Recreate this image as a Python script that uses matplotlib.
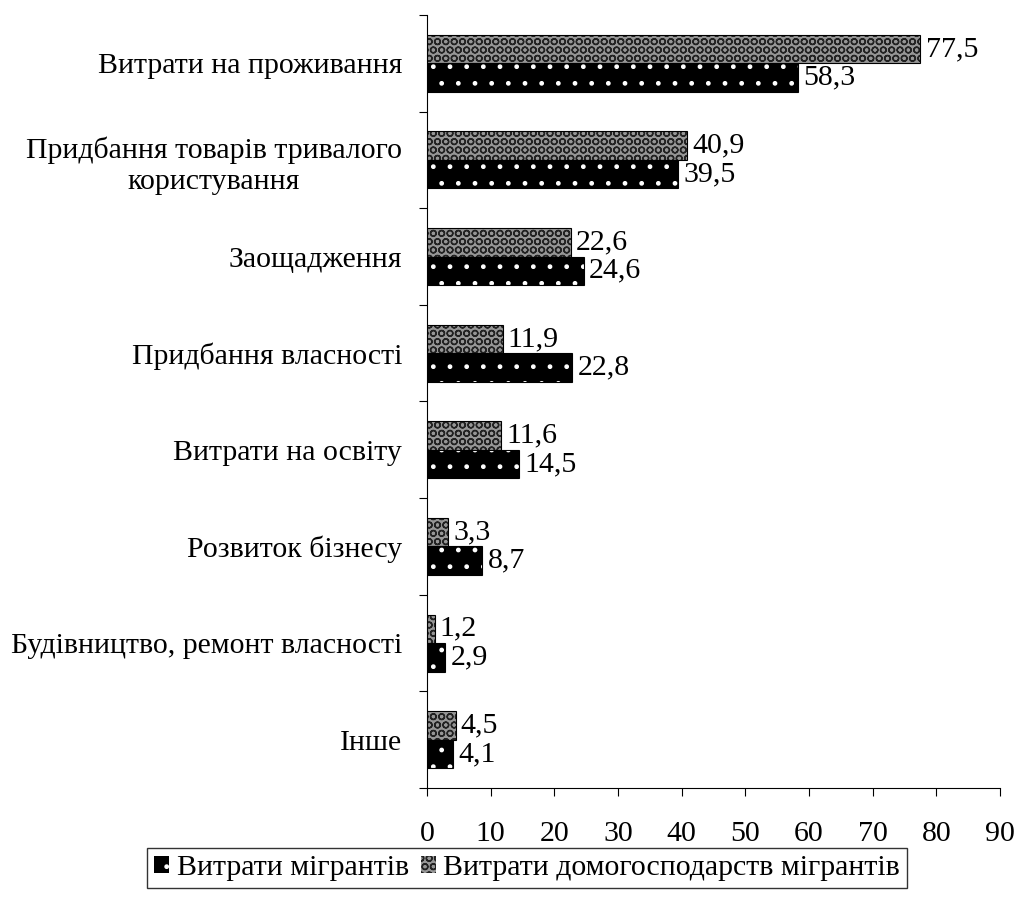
import numpy as np
import matplotlib.pyplot as plt
from matplotlib.patches import Patch

plt.rcParams['font.family'] = ['Liberation Serif', 'DejaVu Serif']
plt.rcParams['hatch.linewidth'] = 1.0

categories = ["Витрати на проживання",
              "Придбання товарів тривалого\nкористування",
              "Заощадження",
              "Придбання власності",
              "Витрати на освіту",
              "Розвиток бізнесу",
              "Будівництво, ремонт власності",
              "Інше"]
migrants = [58.3, 39.5, 24.6, 22.8, 14.5, 8.7, 2.9, 4.1]
households = [77.5, 40.9, 22.6, 11.9, 11.6, 3.3, 1.2, 4.5]
xticks = [0, 10, 20, 30, 40, 50, 60, 70, 80, 90]

fs = 21.5

fig = plt.figure(figsize=(10.18, 9.13), dpi=100)
ax = fig.add_axes([427/1018, 1-788/913, 573/1018, 773/913])

y = np.arange(len(categories))
h = 0.295

def hbar(vals, pos, face, hcol, hatch):
    ax.barh(pos, vals, height=h, color=face, edgecolor='none', linewidth=0)
    ax.barh(pos, vals, height=h, color='none', edgecolor=hcol, hatch=hatch, linewidth=0)
    ax.barh(pos, vals, height=h, color='none', edgecolor='black', linewidth=0.8)

# grey (households) on top, black (migrants) below
hbar(households, y - h/2, '#969696', '#222222', 'OO')
hbar(migrants, y + h/2, 'black', 'white', '.')

for yi, v in zip(y, households):
    ax.text(v + 0.8, yi - h/2, f"{v:.1f}".replace('.', ','), va='center', ha='left', fontsize=fs)
for yi, v in zip(y, migrants):
    ax.text(v + 0.8, yi + h/2, f"{v:.1f}".replace('.', ','), va='center', ha='left', fontsize=fs)

ax.set_ylim(len(categories) - 0.5, -0.5)
ax.set_xlim(0, 90)
ax.set_xticks(xticks)
ax.set_xticklabels([str(t) for t in xticks], fontsize=fs)
ax.set_yticks(y)
ax.set_yticklabels(categories, fontsize=fs, multialignment='center', linespacing=1.25)
ax.set_yticks(np.arange(-0.5, len(categories), 1), minor=True)
ax.tick_params(axis='y', which='major', length=0, pad=18)
ax.tick_params(axis='y', which='minor', length=6, width=0.8, direction='out')
ax.tick_params(axis='x', length=6, width=0.8, direction='out', pad=18)
ax.spines['top'].set_visible(False)
ax.spines['right'].set_visible(False)
for s in ['left', 'bottom']:
    ax.spines[s].set_linewidth(0.8)

handles = [Patch(facecolor='black', edgecolor='white', hatch='.', linewidth=0),
           Patch(facecolor='#969696', edgecolor='#222222', hatch='OO', linewidth=0)]
leg = fig.legend(handles, ["Витрати мігрантів", "Витрати домогосподарств мігрантів"],
                 loc='center', bbox_to_anchor=(527/1018, 1-868/913), ncol=2,
                 fontsize=fs, frameon=True, fancybox=False, handlelength=0.5,
                 handleheight=0.5, handletextpad=0.25, columnspacing=0.4,
                 borderpad=0.25, borderaxespad=0)
leg.get_frame().set_edgecolor('black')
leg.get_frame().set_linewidth(1.0)

fig.savefig('out.png', dpi=100)
